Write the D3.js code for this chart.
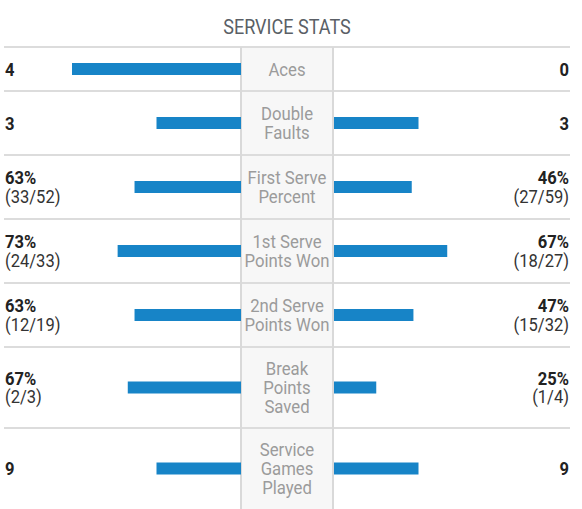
<!DOCTYPE html>
<html>
<head>
<meta charset="utf-8">
<script src="https://cdn.jsdelivr.net/npm/d3@7"></script>
<style>
  html, body { margin: 0; padding: 0; background: #fff; }
  svg { display: block; }
  text { font-family: Roboto, "Noto Sans", sans-serif; }
</style>
</head>
<body>
<svg id="chart" width="582" height="509"></svg>
<script>
// ---- data ----
const title = "SERVICE STATS";
const categories = ["Aces", "Double Faults", "First Serve Percent", "1st Serve Points Won", "2nd Serve Points Won", "Break Points Saved", "Service Games Played"];
const labelLines = [["Aces"], ["Double", "Faults"], ["First Serve", "Percent"], ["1st Serve", "Points Won"], ["2nd Serve", "Points Won"], ["Break", "Points", "Saved"], ["Service", "Games", "Played"]];
const leftMain = ["4", "3", "63%", "73%", "63%", "67%", "9"];
const leftSub = ["", "", "(33/52)", "(24/33)", "(12/19)", "(2/3)", ""];
const rightMain = ["0", "3", "46%", "67%", "47%", "25%", "9"];
const rightSub = ["", "", "(27/59)", "(18/27)", "(15/32)", "(1/4)", ""];
const leftBar = [1, 0.5, 0.63, 0.73, 0.63, 0.67, 0.5];
const rightBar = [0, 0.5, 0.46, 0.67, 0.47, 0.25, 0.5];

// ---- layout ----
const W = 582, H = 509;
const top0 = 47;
const rowH = { 1: 44, 2: 64, 3: 81 };
const colL = 241, colR = 333, lineX0 = 4, lineX1 = 570;
const lineH = 19, barH = 12;

const svg = d3.select("#chart");
const rows = categories.map((c, i) => ({ i, c }));
let y = top0;
rows.forEach(r => { r.y0 = y; y += rowH[labelLines[r.i].length]; r.y1 = y; r.cy = (r.y0 + r.y1) / 2; });

const len = d3.scaleLinear().domain([0, 1]).range([0, colL - 72]);

// center column
svg.append("rect").attr("x", colL).attr("y", top0).attr("width", colR - colL).attr("height", H - top0).attr("fill", "#f7f7f7");

// horizontal row lines
const bounds = [top0].concat(rows.slice(0, -1).map(r => r.y1));
svg.selectAll("line.h").data(bounds).join("line")
  .attr("x1", lineX0).attr("x2", lineX1).attr("y1", d => d).attr("y2", d => d)
  .attr("stroke", "#dcdcdc").attr("stroke-width", 2);

// vertical column borders
[colL, colR].forEach(x => svg.append("line").attr("x1", x).attr("x2", x).attr("y1", top0).attr("y2", H)
  .attr("stroke", "#d9d9d9").attr("stroke-width", 2));

// bars
svg.selectAll("rect.lb").data(rows).join("rect")
  .attr("x", r => colL - len(leftBar[r.i])).attr("y", r => r.cy - barH / 2)
  .attr("width", r => len(leftBar[r.i])).attr("height", barH).attr("fill", "#1784c7");
svg.selectAll("rect.rb").data(rows.filter(r => rightBar[r.i] > 0)).join("rect")
  .attr("x", colR + 1).attr("y", r => r.cy - barH / 2)
  .attr("width", r => len(rightBar[r.i])).attr("height", barH).attr("fill", "#1784c7");

// multi-line text block: parts = [{s, weight, fill}], one <text> with tspans
function block(x, yFirst, parts, anchor, size, sx) {
  const g = svg.append("g").attr("transform", `translate(${x},${yFirst}) scale(${sx},1)`);
  const t = g.append("text").attr("text-anchor", anchor).attr("font-size", size);
  parts.forEach((p, k) => {
    t.append("tspan").attr("x", 0).attr("y", k * lineH)
      .attr("font-weight", p.weight || 400).attr("fill", p.fill).text(p.s);
  });
}

// title
block(287, 34, [{ s: title, fill: "#5a5f66" }], "middle", 21, 0.86);

rows.forEach(r => {
  const i = r.i;
  const lines = labelLines[i];
  const n = lines.length;
  block(287, r.cy - (n - 1) / 2 * lineH + 6.5, lines.map(s => ({ s, fill: "#9b9b9b" })), "middle", 18, 0.93);
  const sides = [[5, "start", leftMain[i], leftSub[i]], [569, "end", rightMain[i], rightSub[i]]];
  sides.forEach(([x, a, m, s]) => {
    const parts = [{ s: m, weight: 700, fill: "#222" }];
    if (s) parts.push({ s, fill: "#333" });
    block(x, r.cy - (parts.length - 1) / 2 * lineH + 6.5, parts, a, 18, 0.92);
  });
});
</script>
</body>
</html>
